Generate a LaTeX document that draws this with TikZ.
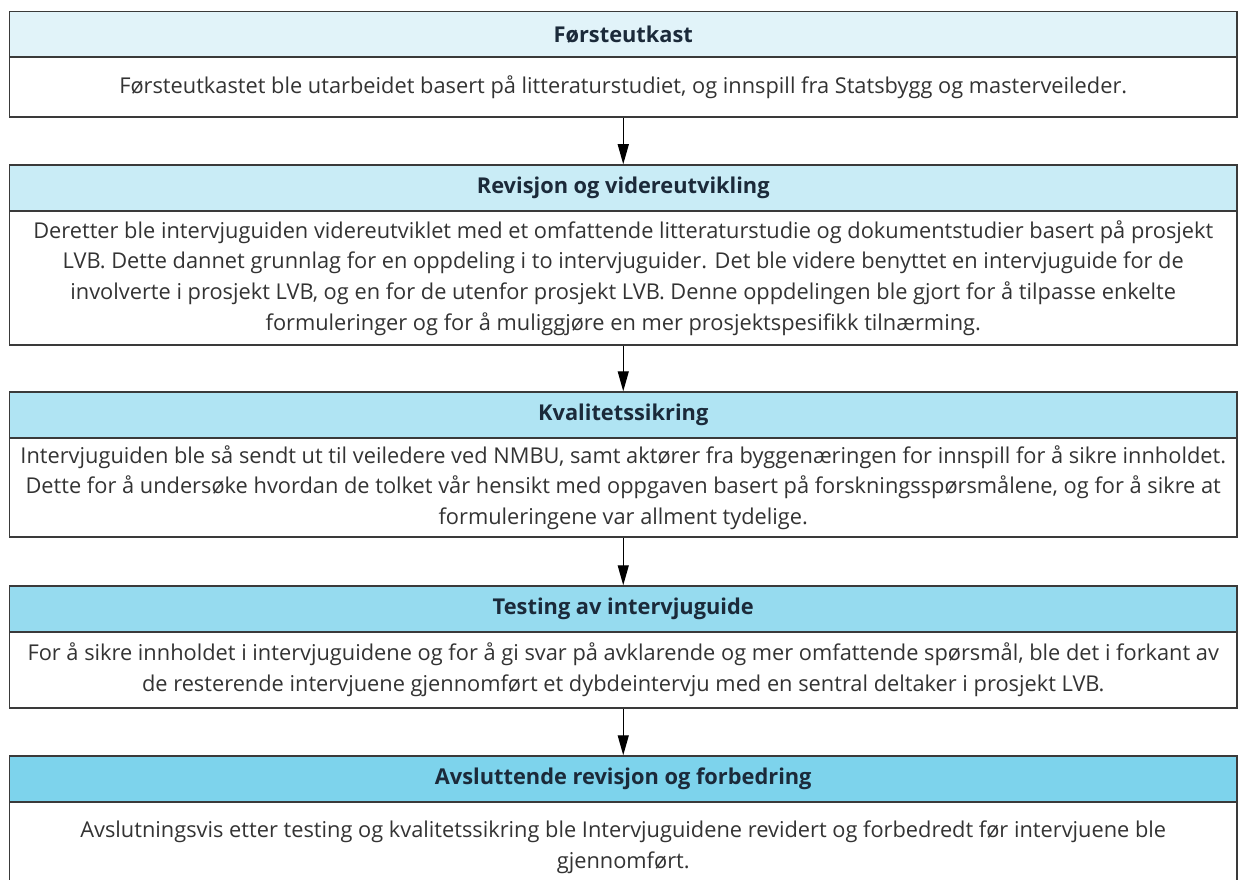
\documentclass[tikz,border=0pt]{standalone}
\usepackage{fontspec}
\setmainfont{Open Sans}
\usetikzlibrary{arrows.meta}
\definecolor{hA}{HTML}{E1F3F9}
\definecolor{hB}{HTML}{C9ECF6}
\definecolor{hC}{HTML}{B0E4F3}
\definecolor{hD}{HTML}{96DBEF}
\definecolor{hE}{HTML}{7DD3EC}
\definecolor{edge}{HTML}{3A3A3A}
\definecolor{htext}{HTML}{1B2A3A}
\definecolor{btext}{HTML}{333333}
\tikzset{
  hdr/.style={draw=edge, line width=1.5pt, rectangle, minimum width=1227.5pt,
    inner sep=0pt, text=htext, font=\fontsize{21.8}{26}\selectfont\bfseries},
  bdy/.style={draw=edge, line width=1.5pt, rectangle, minimum width=1227.5pt,
    inner sep=0pt, text=btext, align=center, fill=white,
    font=\fontsize{21.8}{30.6}\selectfont},
  flow/.style={draw=black, line width=1.3pt, -{Triangle[width=11pt,length=20pt]}}
}
\begin{document}
\begin{tikzpicture}[x=1pt,y=-1pt]
\useasboundingbox (0,0) rectangle (1239,880);
\clip (0,0) rectangle (1239,880);
% Box 1
\node[hdr, fill=hA, minimum height=45.5pt] (h1) at (623.25,34.25) {Førsteutkast};
\node[bdy, minimum height=60pt] (b1) at (623.25,87) {Førsteutkastet ble utarbeidet basert på litteraturstudiet, og innspill fra Statsbygg og masterveileder.};
% Box 2
\node[hdr, fill=hB, minimum height=46pt] (h2) at (623.25,188) {Revisjon og videreutvikling};
\node[bdy, minimum height=134pt] (b2) at (623.25,278) {Deretter ble intervjuguiden videreutviklet med et omfattende litteraturstudie og dokumentstudier basert på prosjekt\\LVB. Dette dannet grunnlag for en oppdeling i to intervjuguider. Det ble videre benyttet en intervjuguide for de\\involverte i prosjekt LVB, og en for de utenfor prosjekt LVB. Denne oppdelingen ble gjort for å tilpasse enkelte\\formuleringer og for å muliggjøre en mer prosjektspesifikk tilnærming.};
% Box 3
\node[hdr, fill=hC, minimum height=46pt] (h3) at (623.25,415) {Kvalitetssikring};
\node[bdy, minimum height=99pt] (b3) at (623.25,487.5) {Intervjuguiden ble så sendt ut til veiledere ved NMBU, samt aktører fra byggenæringen for innspill for å sikre innholdet.\\Dette for å undersøke hvordan de tolket vår hensikt med oppgaven basert på forskningsspørsmålene, og for å sikre at\\formuleringene var allment tydelige.};
% Box 4
\node[hdr, fill=hD, minimum height=46pt] (h4) at (623.25,609) {Testing av intervjuguide};
\node[bdy, minimum height=76pt] (b4) at (623.25,670) {For å sikre innholdet i intervjuguidene og for å gi svar på avklarende og mer omfattende spørsmål, ble det i forkant av\\de resterende intervjuene gjennomført et dybdeintervju med en sentral deltaker i prosjekt LVB.};
% Box 5
\node[hdr, fill=hE, minimum height=46pt] (h5) at (623.25,779) {Avsluttende revisjon og forbedring};
\node[bdy, minimum height=85pt, text depth=0pt] (b5) at (623.25,844.5) {Avslutningsvis etter testing og kvalitetssikring ble Intervjuguidene revidert og forbedredt før intervjuene ble\\gjennomført.};
% Arrows
\draw[flow] (b1.south) -- (h2.north);
\draw[flow] (b2.south) -- (h3.north);
\draw[flow] (b3.south) -- (h4.north);
\draw[flow] (b4.south) -- (h5.north);
\end{tikzpicture}
\end{document}
